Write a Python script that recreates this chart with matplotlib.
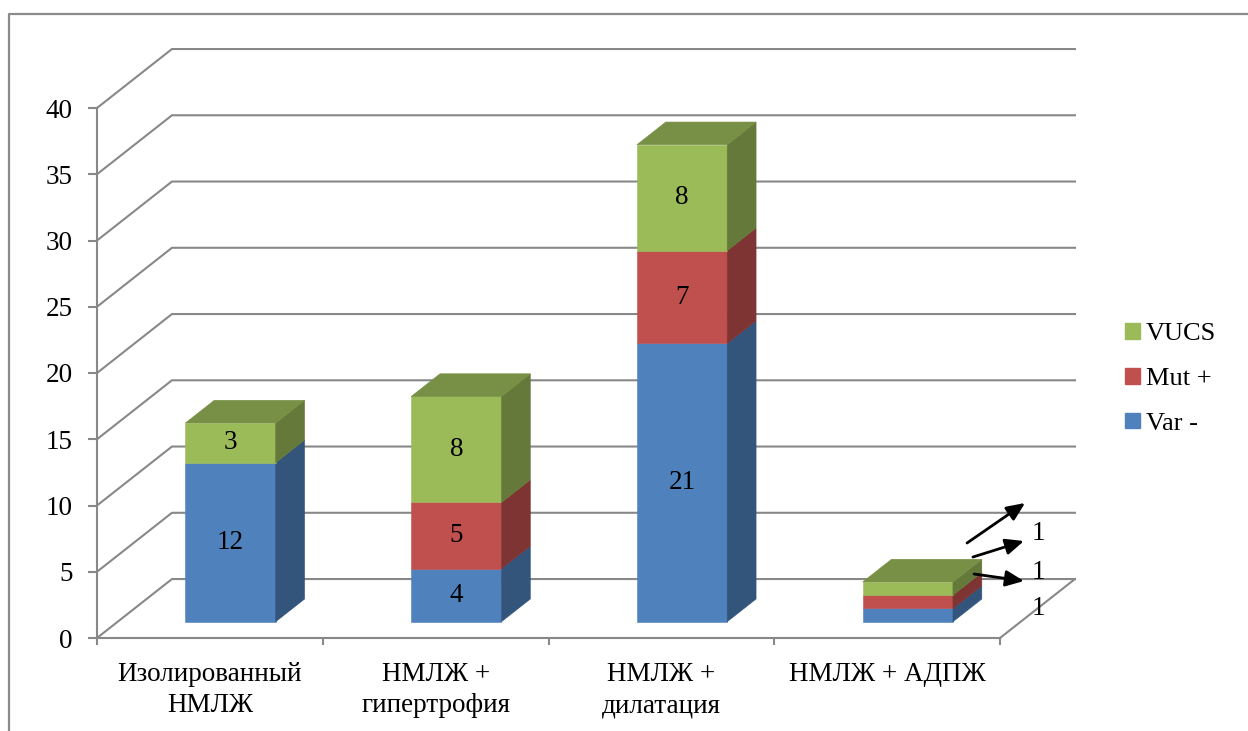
import matplotlib.pyplot as plt
from matplotlib.patches import Polygon, Patch
from matplotlib.lines import Line2D
from matplotlib.colors import to_rgb
import numpy as np

plt.rcParams['font.family'] = ['Liberation Serif', 'DejaVu Serif']

# data
categories = ['Изолированный\nНМЛЖ', 'НМЛЖ +\nгипертрофия', 'НМЛЖ +\nдилатация', 'НМЛЖ + АДПЖ']
series_names = ['Var -', 'Mut +', 'VUCS']
var_minus = [12, 4, 21, 1]
mut_plus = [0, 5, 7, 1]
vucs = [3, 8, 8, 1]
yticks = [0, 5, 10, 15, 20, 25, 30, 35, 40]

colors = ['#4F81BD', '#C0504D', '#9BBB59']
grid_c = '#888888'
FS = 19.5

# 3d look: offset of the back wall (data units), bar depth and width
DX, DY = 0.332, 4.45
Z_FRONT, Z_BACK = 0.276, 0.661
BAR_W = 0.4

# hand-made callouts for the thin last bar (data units)
callout_text = [(4.168, 2.26), (4.168, 4.98), (4.168, 7.92)]
callout_tail = [(3.885, 4.83), (3.880, 6.11), (3.854, 7.17)]
callout_head = [(4.106, 4.30), (4.106, 7.32), (4.111, 10.19)]


def shade(c, k):
    return tuple(np.array(to_rgb(c)) * k)


fig = plt.figure(figsize=(12.48, 7.31), dpi=100)
ax = fig.add_axes([97 / 1248, 1 - 638 / 731, 903 / 1248, 530 / 731])
ax.set_xlim(0, 4)
ax.set_ylim(0, 40)

# walls: gridlines going back, plus floor edge
for v in yticks:
    ax.plot([0, DX, 4 + DX], [v, v + DY, v + DY], color=grid_c, lw=1.5,
            clip_on=False, zorder=1)
ax.plot([4, 4 + DX], [0, DY], color=grid_c, lw=1.5, clip_on=False, zorder=1)

# stacked 3d bars
stack = [var_minus, mut_plus, vucs]
fx, fy = Z_FRONT * DX, Z_FRONT * DY
bx, by = Z_BACK * DX, Z_BACK * DY
bottoms = np.zeros(len(categories))
top_idx = [max(s for s in range(3) if stack[s][i] > 0) for i in range(len(categories))]
small = []
for s, vals in enumerate(stack):
    for i, v in enumerate(vals):
        if v == 0:
            continue
        c0 = i + 0.5 - BAR_W / 2
        c1 = c0 + BAR_W
        v0 = bottoms[i]
        v1 = v0 + v
        col = colors[s]
        front = [(c0 + fx, v0 + fy), (c1 + fx, v0 + fy), (c1 + fx, v1 + fy), (c0 + fx, v1 + fy)]
        side = [(c1 + fx, v0 + fy), (c1 + bx, v0 + by), (c1 + bx, v1 + by), (c1 + fx, v1 + fy)]
        ax.add_patch(Polygon(front, closed=True, fc=col, ec=col, lw=0.4, zorder=3, clip_on=False))
        ax.add_patch(Polygon(side, closed=True, fc=shade(col, 0.65), ec=shade(col, 0.65),
                             lw=0.4, zorder=3, clip_on=False))
        if s == top_idx[i]:
            top = [(c0 + fx, v1 + fy), (c1 + fx, v1 + fy), (c1 + bx, v1 + by), (c0 + bx, v1 + by)]
            ax.add_patch(Polygon(top, closed=True, fc=shade(col, 0.77), ec=shade(col, 0.77),
                                 lw=0.4, zorder=3, clip_on=False))
        if v >= 2:
            ax.text(i + 0.5 + fx, (v0 + v1) / 2 + fy, str(v), ha='center', va='center',
                    fontsize=FS, zorder=5)
        else:
            small.append(v)
        bottoms[i] = v1

# callouts for the small values
for k, v in enumerate(small):
    ax.annotate('', xy=callout_head[k], xytext=callout_tail[k],
                arrowprops=dict(arrowstyle='-|>,head_length=0.5,head_width=0.22',
                                color='black', lw=2, mutation_scale=22,
                                shrinkA=0, shrinkB=0),
                annotation_clip=False, zorder=6)
    ax.text(callout_text[k][0], callout_text[k][1], str(v), ha='center', va='center',
            fontsize=FS, zorder=6, clip_on=False)

# axes
for sp in ['top', 'right']:
    ax.spines[sp].set_visible(False)
for sp in ['left', 'bottom']:
    ax.spines[sp].set_color(grid_c)
    ax.spines[sp].set_linewidth(1.5)
    ax.spines[sp].set_zorder(2)
ax.patch.set_visible(False)

ax.set_yticks(yticks)
ax.set_yticklabels([str(t) for t in yticks])
ax.tick_params(axis='y', length=6.5, width=1.5, color=grid_c, pad=11, labelsize=FS)

ax.set_xticks([0, 1, 2, 3, 4])
ax.set_xticklabels([])
ax.set_xticks([0.5, 1.5, 2.5, 3.5], minor=True)
ax.set_xticklabels(categories, minor=True)
ax.tick_params(axis='x', which='major', length=5, width=1.5, color=grid_c)
ax.tick_params(axis='x', which='minor', length=0, pad=17.5, labelsize=FS)
for lbl in ax.get_xticklabels(minor=True):
    lbl.set_linespacing(1.3)

# legend
handles = [Patch(color=colors[2]), Patch(color=colors[1]), Patch(color=colors[0])]
fig.legend(handles, ['VUCS', 'Mut +', 'Var -'], loc='center left',
           bbox_to_anchor=(1125 / 1248, 1 - 379 / 731), frameon=False, fontsize=FS - 0.5,
           handlelength=0.55, handleheight=0.55, handletextpad=0.25,
           labelspacing=0.85, borderpad=0, borderaxespad=0)

# chart border
fig.add_artist(Line2D([9 / 1248, 9 / 1248, 1], [0, 1 - 14 / 731, 1 - 14 / 731],
                      transform=fig.transFigure, color='#8a8a8a', lw=1.6))

fig.savefig('out.png', dpi=100)
